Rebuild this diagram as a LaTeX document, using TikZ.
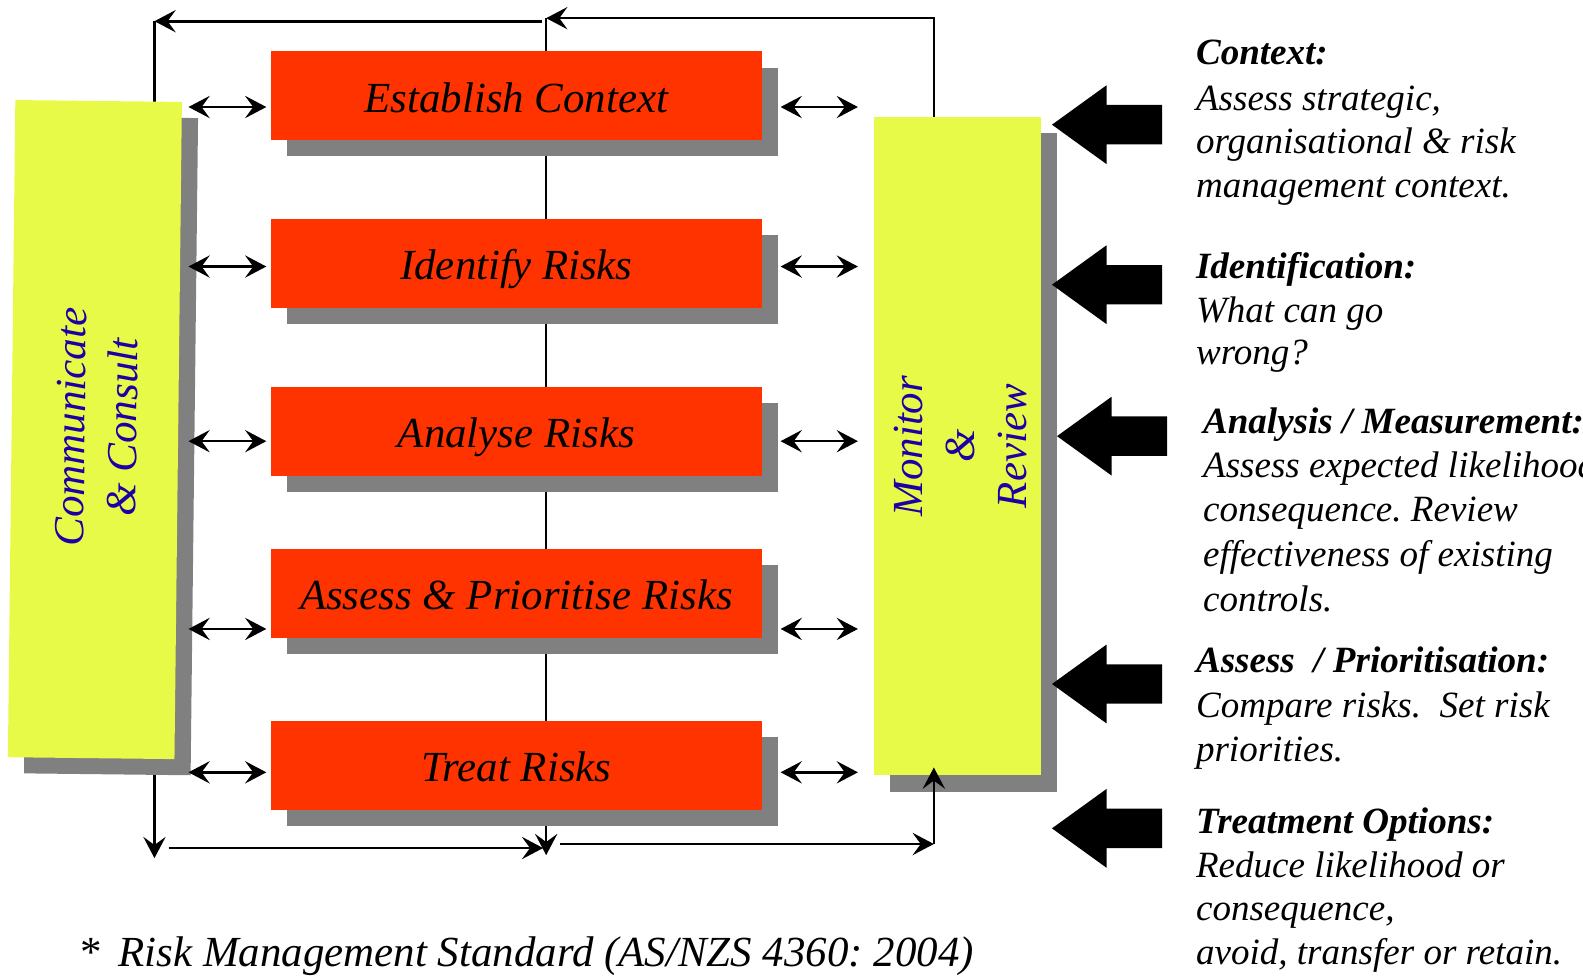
\documentclass[tikz,border=0pt]{standalone}
\usepackage{fontspec}
\setmainfont{Liberation Serif}
\usetikzlibrary{arrows.meta,shadows}
\frenchspacing

\definecolor{stepred}{RGB}{255,51,0}
\definecolor{padyellow}{RGB}{232,250,72}
\definecolor{shade}{RGB}{128,128,128}
\definecolor{padblue}{RGB}{28,0,165}

\pgfdeclarelayer{background}
\pgfsetlayers{background,main}

\tikzset{
  flow/.style={line width=2.6pt, draw=black},
  boxshadow/.style={drop shadow={shadow xshift=16pt, shadow yshift=-16pt, fill=shade, opacity=1}},
  stepbox/.style={rectangle, fill=stepred, minimum width=487pt, minimum height=88pt,
    inner sep=0pt, boxshadow, font=\fontsize{42.5}{51.5}\selectfont\itshape,
    text height=34pt, text depth=2pt},
  padbox/.style={rectangle, fill=padyellow, minimum width=165pt, inner sep=0pt, boxshadow},
  padtext/.style={text=padblue, align=center, inner sep=0pt,
    font=\fontsize{42.5}{51.5}\selectfont\itshape},
  notehead/.style={anchor=base west, inner sep=0pt,
    font=\fontsize{36.7}{44}\selectfont\bfseries\itshape},
  noteline/.style={anchor=base west, inner sep=0pt,
    font=\fontsize{36.7}{44}\selectfont\itshape},
  fatarrow/.pic={\fill[black] (0,0) -- (54,-39) -- (54,-19.5) -- (109,-19.5)
    -- (109,19.5) -- (54,19.5) -- (54,39) -- cycle;},
}

\begin{document}
\begin{tikzpicture}[x=1pt, y=-1pt, >={Stealth[length=21pt,width=22pt,inset=8pt]}]
\useasboundingbox (0,0) rectangle (1568,966);

% side panels
\node[padbox, minimum height=651pt, rotate=-0.65] (cc) at (94,425.5) {};
\node[padbox, minimum height=652pt] (mr) at (948.5,442) {};
\node[padtext, rotate=89.35] (cctext) at (96,423) {Communicate\\\& Consult};
\node[padtext, rotate=90] (mrtext) at (951,442) {Monitor\\\&\\Review};

% process steps
\node[stepbox] (s1) at (511.5,95)  {Establish Context};
\node[stepbox] (s2) at (511.5,261) {Identify Risks};
\node[stepbox] (s3) at (511.5,427) {Analyse Risks};
\node[stepbox] (s4) at (511.5,588) {Assess \& Prioritise Risks};
\node[stepbox] (s5) at (511.5,758) {Treat Risks};

% loop points
\coordinate (topL) at (153,21);
\coordinate (topLstart) at (537,21);
\coordinate (topM) at (541,18);
\coordinate (topR) at (925,18);
\coordinate (botL) at (153,850);
\coordinate (botM) at (541,847);
\coordinate (botLstart) at (167,840);
\coordinate (botLend) at (538,840);
\coordinate (botRstart) at (555,836);
\coordinate (botR) at (925,836);

\begin{pgfonlayer}{background}
  \draw[flow,->] (topM) -- (botM);
  \draw[flow,->] (mr.north -| topR) -- (topR) -- (topM);
  \draw[flow,->] (topLstart) -- (topL);
  \draw[flow] (topL) -- ([yshift=-10pt]cc.north -| topL);
  \draw[flow,->] ([yshift=10pt]cc.south -| botL) -- (botL);
  \draw[flow,->] (botLstart) -- (botLend);
  \draw[flow,->] (botRstart) -- (botR);
\end{pgfonlayer}
\draw[flow,->] (botR) -- ([yshift=8pt]mr.south -| botR);

% exchanges between the steps and the side panels
\foreach \n/\y in {1/106,2/264,3/437,4/623,5/765} {
  \draw[flow,<->,shorten <=10pt,shorten >=4pt] (cc.east |- 0,\y) -- (s\n.west |- 0,\y);
  \draw[flow,<->,shorten <=18pt,shorten >=16pt] (s\n.east |- 0,\y) -- (mr.west |- 0,\y);
}

% block arrows
\pic at (1042,123.5) {fatarrow};
\pic at (1042,282) {fatarrow};
\pic at (1047,432) {fatarrow};
\pic at (1042,677.5) {fatarrow};
\pic at (1042,820.5) {fatarrow};

% notes
\node[notehead] (c1) at (1184.5,64)  {Context:};
\node[noteline] (c2) at (1184.5,109) {Assess strategic,};
\node[noteline] (c3) at (1184.5,152) {organisational \& risk};
\node[noteline] (c4) at (1184.5,196) {management context.};

\node[notehead] (i1) at (1184.5,276) {Identification:};
\node[noteline] (i2) at (1184.5,319) {What can go};
\node[noteline] (i3) at (1184.5,361) {wrong?};

\node[notehead] (a1) at (1191.5,429) {Analysis / Measurement:};
\node[noteline] (a2) at (1191.5,473) {Assess expected likelihood};
\node[noteline] (a3) at (1191.5,517) {consequence. Review};
\node[noteline] (a4) at (1191.5,561) {effectiveness of existing};
\node[noteline] (a5) at (1191.5,606) {controls.};

\node[notehead] (p1) at (1184.5,666) {Assess~~/ Prioritisation:};
\node[noteline] (p2) at (1184.5,711) {Compare risks.~~Set risk};
\node[noteline] (p3) at (1184.5,754) {priorities.};

\node[notehead] (t1) at (1184.5,826) {Treatment Options:};
\node[noteline] (t2) at (1184.5,869) {Reduce likelihood or};
\node[noteline] (t3) at (1184.5,912) {consequence,};
\node[noteline] (t4) at (1184.5,955) {avoid, transfer or retain.};

% source
\node[anchor=base west, inner sep=0pt, font=\fontsize{42.5}{51}\selectfont\itshape] (src)
  at (78,957) {*\hspace{18pt}Risk Management Standard (AS/NZS 4360: 2004)};
\end{tikzpicture}
\end{document}
